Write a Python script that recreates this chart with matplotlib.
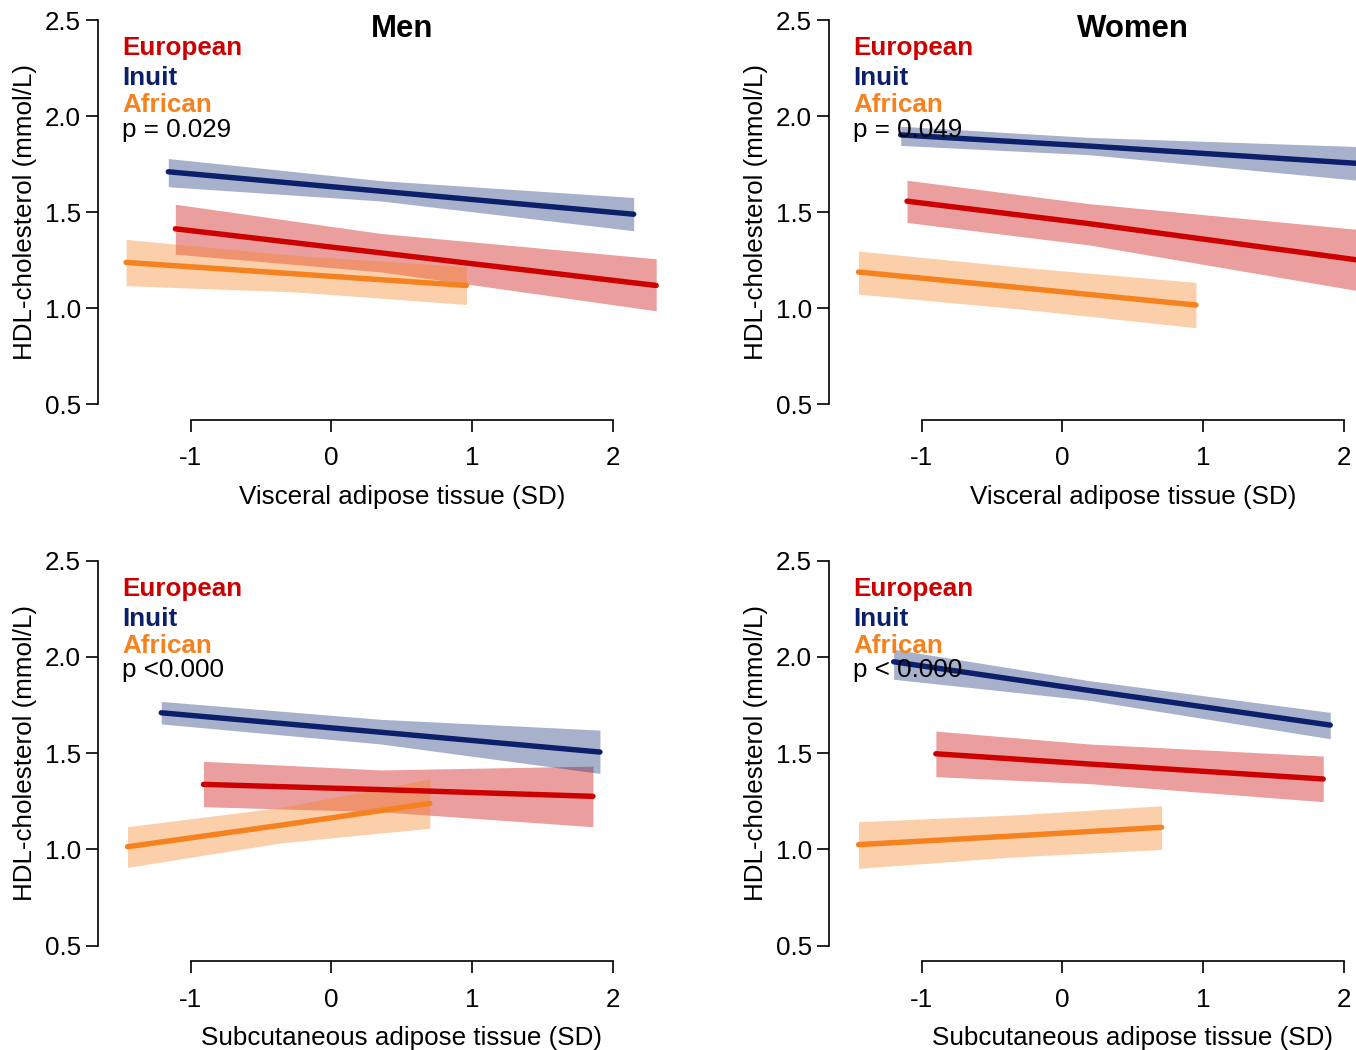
import matplotlib
matplotlib.use("Agg")
import matplotlib.pyplot as plt

plt.rcParams['font.family'] = ['Liberation Sans', 'DejaVu Sans']

# ---------------- data ----------------
groups = ["European", "Inuit", "African"]
line_colors = {"European": "#CC0000", "Inuit": "#0B1F6B", "African": "#F5821F"}
band_colors = {"European": "#CC0000", "Inuit": "#1A337A", "African": "#F5821F"}

titles = ["Men", "Women", "", ""]
xlabels = ["Visceral adipose tissue (SD)", "Visceral adipose tissue (SD)",
           "Subcutaneous adipose tissue (SD)", "Subcutaneous adipose tissue (SD)"]
ylabel = "HDL-cholesterol (mmol/L)"
pvalues = ["p = 0.029", "p = 0.049", "p <0.000", "p < 0.000"]
xticks = [-1, 0, 1, 2]
yticks = [0.5, 1.0, 1.5, 2.0, 2.5]

# Men, visceral
men_vat_eur_x = [-1.11, 0.35, 2.31]
men_vat_eur_fit = [1.414, 1.289, 1.119]
men_vat_eur_lo = [1.282, 1.190, 0.987]
men_vat_eur_hi = [1.542, 1.390, 1.258]
men_vat_inu_x = [-1.16, 0.35, 2.15]
men_vat_inu_fit = [1.711, 1.610, 1.490]
men_vat_inu_lo = [1.633, 1.559, 1.404]
men_vat_inu_hi = [1.780, 1.665, 1.577]
men_vat_afr_x = [-1.46, -0.25, 0.96]
men_vat_afr_fit = [1.239, 1.179, 1.119]
men_vat_afr_lo = [1.118, 1.085, 1.020]
men_vat_afr_hi = [1.359, 1.275, 1.217]

# Women, visceral
wom_vat_eur_x = [-1.105, 0.19, 2.30]
wom_vat_eur_fit = [1.558, 1.441, 1.232]
wom_vat_eur_lo = [1.447, 1.330, 1.067]
wom_vat_eur_hi = [1.667, 1.545, 1.397]
wom_vat_inu_x = [-1.15, 0.19, 2.20]
wom_vat_inu_fit = [1.903, 1.845, 1.750]
wom_vat_inu_lo = [1.848, 1.800, 1.660]
wom_vat_inu_hi = [1.948, 1.890, 1.840]
wom_vat_afr_x = [-1.45, -0.25, 0.95]
wom_vat_afr_fit = [1.189, 1.104, 1.017]
wom_vat_afr_lo = [1.074, 0.993, 0.899]
wom_vat_afr_hi = [1.298, 1.211, 1.135]

# Men, subcutaneous
men_sat_eur_x = [-0.91, 0.35, 1.86]
men_sat_eur_fit = [1.338, 1.311, 1.276]
men_sat_eur_lo = [1.222, 1.196, 1.118]
men_sat_eur_hi = [1.458, 1.413, 1.433]
men_sat_inu_x = [-1.21, 0.35, 1.91]
men_sat_inu_fit = [1.710, 1.609, 1.506]
men_sat_inu_lo = [1.652, 1.548, 1.395]
men_sat_inu_hi = [1.769, 1.676, 1.620]
men_sat_afr_x = [-1.45, -0.35, 0.70]
men_sat_afr_fit = [1.014, 1.127, 1.239]
men_sat_afr_lo = [0.907, 1.035, 1.110]
men_sat_afr_hi = [1.118, 1.219, 1.366]

# Women, subcutaneous
wom_sat_eur_x = [-0.90, 0.19, 1.855]
wom_sat_eur_fit = [1.497, 1.444, 1.366]
wom_sat_eur_lo = [1.378, 1.342, 1.248]
wom_sat_eur_hi = [1.615, 1.548, 1.485]
wom_sat_inu_x = [-1.20, 0.19, 1.905]
wom_sat_inu_fit = [1.975, 1.826, 1.646]
wom_sat_inu_lo = [1.884, 1.775, 1.575]
wom_sat_inu_hi = [2.040, 1.877, 1.712]
wom_sat_afr_x = [-1.45, -0.35, 0.705]
wom_sat_afr_fit = [1.025, 1.070, 1.115]
wom_sat_afr_lo = [0.902, 0.961, 1.000]
wom_sat_afr_hi = [1.144, 1.179, 1.227]

panels = [
    {"European": (men_vat_eur_x, men_vat_eur_fit, men_vat_eur_lo, men_vat_eur_hi),
     "Inuit": (men_vat_inu_x, men_vat_inu_fit, men_vat_inu_lo, men_vat_inu_hi),
     "African": (men_vat_afr_x, men_vat_afr_fit, men_vat_afr_lo, men_vat_afr_hi)},
    {"European": (wom_vat_eur_x, wom_vat_eur_fit, wom_vat_eur_lo, wom_vat_eur_hi),
     "Inuit": (wom_vat_inu_x, wom_vat_inu_fit, wom_vat_inu_lo, wom_vat_inu_hi),
     "African": (wom_vat_afr_x, wom_vat_afr_fit, wom_vat_afr_lo, wom_vat_afr_hi)},
    {"European": (men_sat_eur_x, men_sat_eur_fit, men_sat_eur_lo, men_sat_eur_hi),
     "Inuit": (men_sat_inu_x, men_sat_inu_fit, men_sat_inu_lo, men_sat_inu_hi),
     "African": (men_sat_afr_x, men_sat_afr_fit, men_sat_afr_lo, men_sat_afr_hi)},
    {"European": (wom_sat_eur_x, wom_sat_eur_fit, wom_sat_eur_lo, wom_sat_eur_hi),
     "Inuit": (wom_sat_inu_x, wom_sat_inu_fit, wom_sat_inu_lo, wom_sat_inu_hi),
     "African": (wom_sat_afr_x, wom_sat_afr_fit, wom_sat_afr_lo, wom_sat_afr_hi)},
]

# ---------------- figure ----------------
W, H = 1356, 1050
fig = plt.figure(figsize=(W / 100, H / 100), dpi=100)

ppu = 140.6
xlim = (-1.66, 2.66)
ylim = (0.42, 2.58)
aw = (xlim[1] - xlim[0]) * ppu / W
positions = [
    (98 / W, (H - 419.7) / H, aw, 414.8 / H),
    (829 / W, (H - 419.7) / H, aw, 414.8 / H),
    (98 / W, (H - 961.1) / H, aw, 415.8 / H),
    (829 / W, (H - 961.1) / H, aw, 415.8 / H),
]

FS = 18.7
legend_y = [2.319, 2.163, 2.021]
p_y = 1.894
text_x = -1.49

for i, pos in enumerate(positions):
    ax = fig.add_axes(pos)
    ax.set_xlim(*xlim)
    ax.set_ylim(*ylim)
    ax.patch.set_alpha(0)
    for s in ["top", "right"]:
        ax.spines[s].set_visible(False)
    ax.spines["left"].set_bounds(0.5, 2.5)
    ax.spines["bottom"].set_bounds(-1, 2)
    for s in ["left", "bottom"]:
        ax.spines[s].set_linewidth(1.2)
    ax.set_xticks(xticks)
    ax.set_xticklabels([str(t) for t in xticks])
    ax.set_yticks(yticks)
    ax.set_yticklabels([f"{t:.1f}" for t in yticks])
    ax.tick_params(axis="both", direction="out", length=8.6, width=1.2,
                   labelsize=FS, colors="black")
    ax.tick_params(axis="x", pad=10.5)
    ax.tick_params(axis="y", pad=3.5)

    for g in groups:
        x, fit, lo, hi = panels[i][g]
        ax.fill_between(x, lo, hi, color=band_colors[g], alpha=0.38,
                        linewidth=0, zorder=2)
        ax.plot(x, fit, color=line_colors[g], lw=3.9,
                solid_capstyle="round", zorder=3)

    ax.set_xlabel(xlabels[i], fontsize=FS)
    ax.xaxis.set_label_coords(0.5, -0.186)
    ax.xaxis.label.set_verticalalignment("center")
    ax.set_ylabel(ylabel, fontsize=FS)
    ax.yaxis.set_label_coords(-0.12, 0.5)
    ax.yaxis.label.set_verticalalignment("center")

    if titles[i]:
        ax.text(0.5, 2.415, titles[i], ha="center", va="baseline",
                fontsize=22.4, fontweight="bold", zorder=5)
    for g, yy in zip(groups, legend_y):
        ax.text(text_x, yy, g, color=line_colors[g], fontsize=FS,
                fontweight="bold", ha="left", va="baseline", zorder=5)
    ax.text(text_x, p_y, pvalues[i], color="black", fontsize=FS,
            ha="left", va="baseline", zorder=5)

fig.savefig("out.png", dpi=100)
